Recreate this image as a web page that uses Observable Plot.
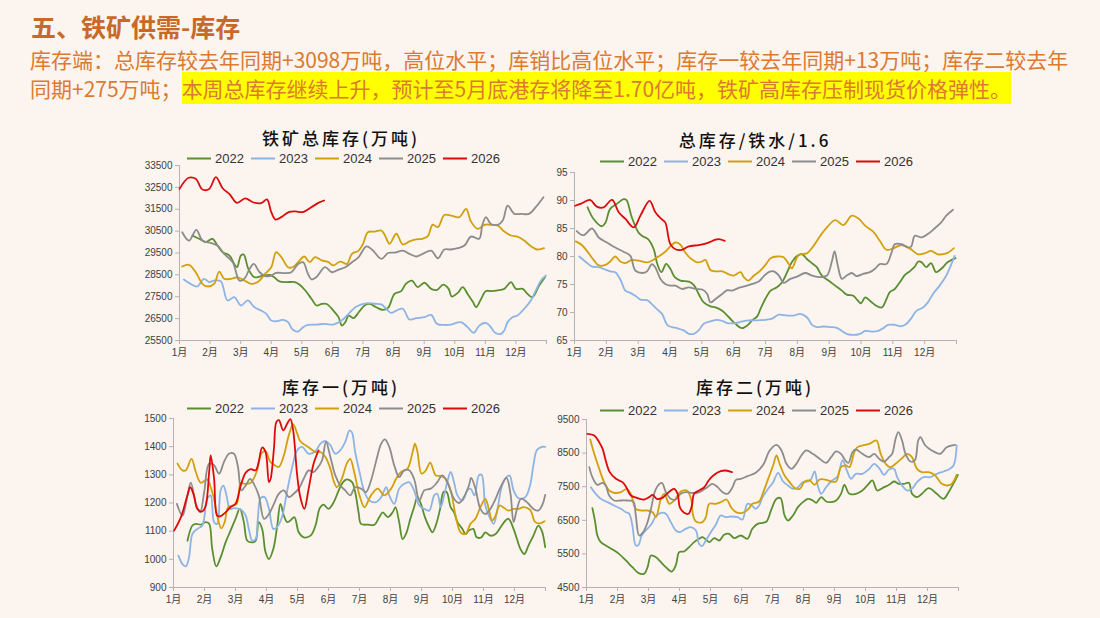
<!DOCTYPE html>
<html>
<head>
<meta charset="utf-8">
<script src="https://cdn.jsdelivr.net/npm/d3@7"></script>
<script src="https://cdn.jsdelivr.net/npm/@observablehq/plot@0.6"></script>
<style>
  body { margin: 0; background: #fbf4ef; }
  #page { position: relative; width: 1100px; height: 618px; background: #fbf4ef; overflow: hidden;
          font-family: "Noto Sans CJK SC", sans-serif; }
  .heading { position: absolute; left: 31px; top: 9px; font-size: 25px; font-weight: 700; color: #c8692a; line-height: 34px; }
  .summary { position: absolute; left: 30px; top: 45px; width: 1065px; font-size: 21px; line-height: 29px; color: #dc7a30;
             white-space: nowrap; }
  .summary span.hl { background: #ffff00; padding: 1px 0; }
  .ptitle { position: absolute; font-size: 17px; letter-spacing: 3px; color: #111; font-weight: 500;
            transform: translate(-50%, -50%); white-space: nowrap; }
  .legend { position: absolute; display: flex; align-items: center; transform: translateY(-50%);
            font-family: "Liberation Sans", Arial, sans-serif; font-size: 13px; color: #333; }
  .legend .item { display: flex; align-items: center; width: 64px; }
  .legend .sw { display: inline-block; width: 24px; height: 2px; margin-right: 4px; }
  .panel { position: absolute; }
</style>
</head>
<body>
<div id="page">
  <div class="heading">五、铁矿供需-库存</div>
  <div class="summary">库存端：总库存较去年同期+3098万吨，高位水平；库销比高位水平；库存一较去年同期+13万吨；库存二较去年<br>同期+275万吨；<span class="hl">本周总库存继续上升，预计至5月底港存将降至1.70亿吨，铁矿高库存压制现货价格弹性。</span></div>
</div>
<script>
// Series are [month position (0 = start of Jan, 12 = end of Dec), value]
const years = ["2022", "2023", "2024", "2025", "2026"];
const yearColors = ["#5a8f30", "#8db4e4", "#d2a00c", "#8c8c8c", "#dc0a0a"];
const monthLabels = ["1月","2月","3月","4月","5月","6月","7月","8月","9月","10月","11月","12月"];

// 铁矿总库存（万吨）
const total2022 = [[0.42,30300],[0.64,30150],[0.86,30000],[1.08,30150],[1.24,29840],[1.41,29540],[1.63,29390],[1.79,29000],[1.88,28850],[2.01,29390],[2.1,29430],[2.25,28780],[2.45,28390],[2.67,28440],[2.95,28500],[3.1,28390],[3.27,28200],[3.49,28170],[3.77,28170],[3.93,28050],[4.1,27810],[4.32,27400],[4.48,27100],[4.65,27170],[4.81,27170],[5.03,26870],[5.2,26570],[5.31,26180],[5.42,26330],[5.53,26640],[5.69,26520],[5.86,26790],[6.05,27100],[6.22,27170],[6.43,27020],[6.65,26900],[6.82,26990],[7.03,27630],[7.25,27760],[7.4,28090],[7.6,28240],[7.79,27940],[8.01,28140],[8.23,27860],[8.42,27810],[8.62,28050],[8.8,27860],[8.9,27510],[9.1,27680],[9.26,27940],[9.42,27630],[9.6,27250],[9.7,27020],[9.86,27400],[10.02,27760],[10.18,27760],[10.4,27790],[10.62,27860],[10.84,28170],[11.0,27860],[11.22,27860],[11.38,27630],[11.54,27480],[11.76,28010],[11.95,28390]];
const total2023 = [[0.14,28290],[0.36,28090],[0.58,27970],[0.8,28320],[0.97,28170],[1.13,28240],[1.35,28210],[1.57,27330],[1.79,27480],[2.01,27100],[2.23,27330],[2.45,27020],[2.67,26870],[2.84,26720],[3.0,26410],[3.16,26380],[3.38,26440],[3.55,26340],[3.7,26000],[3.88,25910],[4.04,26110],[4.2,26210],[4.48,26230],[4.76,26260],[5.03,26230],[5.3,26410],[5.53,26720],[5.75,27020],[5.95,27150],[6.16,27210],[6.38,27180],[6.6,27150],[6.76,26950],[6.92,26760],[7.09,26870],[7.3,26950],[7.52,26460],[7.74,26520],[8.01,26570],[8.23,26670],[8.42,26260],[8.66,26210],[8.88,26230],[9.2,26340],[9.42,26110],[9.62,25850],[9.8,26180],[10.02,26310],[10.18,26110],[10.32,25850],[10.51,25800],[10.62,25960],[10.73,26340],[10.9,26570],[11.05,26640],[11.27,26950],[11.49,27330],[11.65,27790],[11.82,28240],[11.98,28470]];
const total2024 = [[0.09,28880],[0.31,28960],[0.53,28620],[0.75,28090],[0.91,27970],[1.13,28090],[1.3,28650],[1.46,28320],[1.68,28320],[1.9,28390],[2.12,28240],[2.34,28090],[2.56,28170],[2.78,28520],[3.0,28850],[3.16,29540],[3.33,29310],[3.55,28850],[3.7,28850],[3.88,29080],[4.08,29340],[4.26,29080],[4.43,29310],[4.65,29160],[4.87,29080],[5.03,28930],[5.25,29110],[5.47,29000],[5.64,29460],[5.85,29600],[6.0,29920],[6.16,30450],[6.38,30480],[6.6,30530],[6.72,30300],[6.87,29920],[7.09,30380],[7.3,29890],[7.52,30030],[7.74,30120],[7.95,30150],[8.12,30270],[8.28,30800],[8.45,30680],[8.66,31240],[8.88,31210],[9.15,31140],[9.37,31520],[9.53,30940],[9.75,30600],[9.97,30790],[10.18,30790],[10.4,30760],[10.62,30480],[10.84,30300],[11.05,30250],[11.27,30070],[11.49,29810],[11.7,29660],[11.92,29720]];
const total2025 = [[0.09,30450],[0.31,30070],[0.55,30560],[0.75,30070],[1.02,29960],[1.24,29840],[1.46,29460],[1.74,29080],[1.96,28240],[2.12,28320],[2.29,28770],[2.43,29000],[2.62,28620],[2.81,28440],[3.0,28470],[3.16,28590],[3.44,28580],[3.66,28620],[3.88,29000],[4.04,29080],[4.2,28550],[4.32,28290],[4.48,28400],[4.76,28850],[4.98,28620],[5.2,28740],[5.42,28850],[5.64,29080],[5.85,29300],[6.11,29800],[6.3,29650],[6.6,29230],[6.82,29500],[7.05,29520],[7.3,29610],[7.52,29460],[7.74,29340],[7.95,29460],[8.23,29610],[8.45,29260],[8.66,29660],[8.88,29660],[9.1,29720],[9.32,29840],[9.53,30250],[9.8,30150],[9.9,30760],[10.02,31140],[10.18,30830],[10.4,30790],[10.57,30990],[10.73,31670],[10.95,31290],[11.16,31290],[11.43,31290],[11.65,31600],[11.9,32050]];
const total2026 = [[0.0,32430],[0.3,32940],[0.53,32890],[0.75,32400],[0.97,32430],[1.19,32970],[1.41,32460],[1.63,32200],[1.88,31790],[2.15,32000],[2.4,31820],[2.67,31780],[2.86,31950],[3.0,31370],[3.14,31030],[3.33,31140],[3.57,31370],[3.79,31400],[4.04,31370],[4.32,31600],[4.54,31790],[4.73,31900]];

// 总库存/铁水/1.6
const ratio2022 = [[0.41,88.8],[0.6,86.7],[0.86,85.4],[0.97,86.0],[1.12,88.5],[1.33,89.4],[1.54,90.25],[1.63,90.1],[1.8,87.0],[2.01,84.3],[2.14,83.6],[2.31,83.1],[2.49,81.3],[2.6,78.7],[2.73,77.2],[2.88,78.7],[3.01,77.8],[3.15,76.3],[3.33,75.7],[3.59,75.5],[3.75,74.9],[3.9,73.3],[4.06,71.8],[4.27,71.1],[4.43,70.9],[4.64,70.3],[4.85,69.15],[5.06,67.96],[5.25,67.2],[5.43,67.7],[5.58,68.6],[5.74,69.3],[5.84,70.6],[6.0,72.5],[6.16,73.9],[6.36,74.5],[6.52,75.4],[6.68,77.2],[6.83,79.0],[6.99,80.1],[7.15,80.4],[7.3,79.55],[7.46,78.8],[7.61,78.1],[7.77,76.6],[7.98,75.7],[8.19,74.8],[8.4,73.9],[8.55,73.2],[8.76,73.0],[8.86,72.4],[9.0,71.65],[9.13,72.7],[9.28,72.1],[9.44,71.35],[9.65,70.9],[9.8,72.4],[9.9,73.6],[10.06,74.2],[10.22,75.4],[10.38,76.7],[10.53,77.35],[10.69,78.2],[10.8,79.1],[10.9,79.0],[11.05,78.1],[11.2,78.8],[11.36,77.2],[11.52,77.8],[11.73,79.0],[11.97,79.7]];
const ratio2023 = [[0.15,80.0],[0.34,79.1],[0.55,78.2],[0.76,78.1],[0.97,77.65],[1.12,77.35],[1.28,77.2],[1.44,75.9],[1.6,73.9],[1.75,73.5],[1.91,73.0],[2.07,72.3],[2.28,72.2],[2.43,71.5],[2.59,70.6],[2.75,69.75],[2.91,67.8],[3.06,67.4],[3.22,67.2],[3.43,66.8],[3.59,66.2],[3.75,66.2],[3.9,66.8],[4.06,68.0],[4.27,68.4],[4.48,68.7],[4.64,68.5],[4.8,68.1],[5.06,68.1],[5.27,68.4],[5.48,68.6],[5.75,68.6],[6.0,68.7],[6.21,68.9],[6.42,69.6],[6.68,69.45],[6.89,69.45],[7.09,69.75],[7.3,69.15],[7.46,67.8],[7.61,67.4],[7.82,67.5],[8.03,67.4],[8.24,67.25],[8.4,66.7],[8.55,66.2],[8.76,66.0],[8.97,66.2],[9.13,66.7],[9.33,66.6],[9.54,66.7],[9.7,67.2],[9.85,67.8],[10.06,67.8],[10.27,67.55],[10.43,68.0],[10.58,69.0],[10.74,70.3],[10.95,70.9],[11.1,71.8],[11.26,73.3],[11.47,74.8],[11.68,76.6],[11.83,78.5],[11.94,80.1]];
const ratio2024 = [[0.04,82.7],[0.23,82.05],[0.39,81.0],[0.6,79.4],[0.76,78.4],[0.97,78.5],[1.12,79.1],[1.28,80.0],[1.44,79.1],[1.6,78.8],[1.8,79.4],[2.01,79.25],[2.28,78.95],[2.43,79.25],[2.64,80.0],[2.85,80.85],[3.01,81.8],[3.17,82.5],[3.33,82.1],[3.48,80.7],[3.64,79.7],[3.85,78.95],[4.0,79.1],[4.11,79.4],[4.27,77.6],[4.43,77.35],[4.64,77.35],[4.85,76.8],[5.0,76.6],[5.22,77.2],[5.32,76.3],[5.46,75.7],[5.64,76.6],[5.82,77.4],[6.0,78.5],[6.16,79.7],[6.36,80.0],[6.57,79.85],[6.73,78.65],[6.83,77.9],[6.99,79.85],[7.09,80.4],[7.3,80.55],[7.51,81.9],[7.72,83.7],[7.93,85.2],[8.19,86.5],[8.45,85.6],[8.71,87.3],[8.92,86.8],[9.13,85.5],[9.39,84.4],[9.59,82.8],[9.8,81.2],[10.01,81.45],[10.27,82.05],[10.53,81.45],[10.79,80.4],[11.0,80.55],[11.2,81.0],[11.41,80.4],[11.68,80.55],[11.92,81.5]];
const ratio2025 = [[0.07,84.55],[0.28,83.8],[0.55,85.0],[0.76,83.4],[1.02,82.5],[1.28,81.6],[1.54,80.85],[1.75,80.15],[1.91,77.5],[2.12,77.05],[2.28,77.35],[2.43,78.65],[2.54,78.05],[2.7,76.0],[2.85,75.1],[3.01,74.8],[3.17,74.8],[3.38,74.2],[3.59,74.5],[3.8,74.2],[4.01,74.1],[4.17,73.3],[4.27,71.8],[4.43,72.4],[4.64,73.3],[4.8,74.0],[4.95,73.9],[5.16,74.4],[5.37,74.7],[5.58,75.1],[5.8,75.6],[5.95,76.5],[6.1,77.2],[6.26,77.35],[6.42,76.6],[6.57,75.3],[6.78,76.0],[6.99,76.4],[7.25,77.05],[7.46,76.6],[7.72,76.3],[7.93,76.6],[8.08,79.0],[8.17,80.9],[8.27,78.4],[8.4,76.0],[8.55,76.6],[8.71,77.05],[8.86,76.5],[9.07,76.9],[9.28,77.2],[9.44,77.8],[9.59,78.65],[9.8,78.65],[9.96,80.7],[10.06,82.2],[10.27,82.2],[10.48,81.6],[10.58,81.8],[10.69,83.7],[10.9,83.4],[11.1,84.0],[11.31,85.0],[11.52,86.1],[11.68,87.3],[11.89,88.35]];
const ratio2026 = [[0.02,89.06],[0.23,89.5],[0.49,90.1],[0.7,88.9],[0.91,88.76],[1.18,90.1],[1.39,87.9],[1.6,86.7],[1.86,85.2],[2.07,87.3],[2.36,89.95],[2.54,87.9],[2.73,86.7],[2.85,86.1],[3.01,82.2],[3.17,81.3],[3.38,81.2],[3.59,81.8],[3.9,82.05],[4.17,82.4],[4.43,83.0],[4.53,83.1],[4.72,82.8]];

// 库存一（万吨）
const stockA2022 = [[0.45,1066],[0.61,1120],[0.72,1126],[0.88,1123],[1.04,1132],[1.15,1126],[1.25,1037],[1.38,975],[1.52,1007],[1.68,1060],[1.84,1102],[2.0,1144],[2.14,1179],[2.27,1132],[2.38,1066],[2.54,1060],[2.65,1066],[2.75,1132],[2.86,1108],[2.97,1025],[3.08,1001],[3.22,1037],[3.34,1114],[3.45,1197],[3.56,1155],[3.67,1132],[3.77,1138],[3.9,1150],[4.04,1096],[4.2,1078],[4.42,1084],[4.58,1120],[4.72,1182],[4.84,1194],[5.0,1179],[5.17,1203],[5.33,1245],[5.47,1274],[5.59,1284],[5.76,1274],[5.86,1239],[5.97,1167],[6.05,1126],[6.27,1123],[6.48,1123],[6.64,1150],[6.75,1167],[6.91,1150],[7.07,1167],[7.16,1185],[7.28,1132],[7.39,1072],[7.5,1090],[7.64,1144],[7.76,1185],[7.87,1221],[7.98,1197],[8.11,1150],[8.25,1114],[8.35,1096],[8.46,1120],[8.6,1179],[8.71,1239],[8.81,1239],[8.94,1185],[9.05,1167],[9.16,1132],[9.32,1108],[9.42,1090],[9.53,1102],[9.67,1108],[9.78,1078],[9.93,1078],[10.06,1096],[10.22,1084],[10.39,1090],[10.55,1114],[10.71,1138],[10.81,1144],[10.97,1108],[11.08,1072],[11.19,1037],[11.32,1019],[11.45,1049],[11.61,1084],[11.77,1120],[11.88,1102],[11.99,1043]];
const stockA2023 = [[0.16,1013],[0.29,983],[0.4,975],[0.5,1007],[0.61,1090],[0.77,1108],[0.93,1120],[1.09,1215],[1.2,1227],[1.31,1132],[1.41,1126],[1.52,1245],[1.61,1262],[1.71,1227],[1.82,1179],[1.95,1182],[2.11,1179],[2.22,1173],[2.33,1155],[2.43,1108],[2.54,1066],[2.65,1072],[2.72,1144],[2.81,1217],[2.94,1221],[3.08,1179],[3.22,1108],[3.34,1114],[3.5,1150],[3.67,1245],[3.83,1328],[3.99,1387],[4.15,1399],[4.36,1375],[4.58,1384],[4.74,1411],[4.9,1420],[5.06,1405],[5.22,1375],[5.38,1387],[5.54,1417],[5.68,1458],[5.76,1450],[5.86,1381],[6.0,1310],[6.16,1239],[6.32,1209],[6.53,1203],[6.7,1221],[6.86,1256],[6.96,1227],[7.12,1197],[7.28,1251],[7.44,1268],[7.6,1274],[7.76,1245],[7.93,1191],[8.09,1179],[8.25,1173],[8.41,1227],[8.51,1233],[8.62,1185],[8.73,1227],[8.83,1274],[8.94,1310],[9.05,1274],[9.16,1227],[9.32,1209],[9.48,1245],[9.58,1251],[9.71,1227],[9.85,1298],[9.94,1300],[10.06,1191],[10.22,1144],[10.33,1126],[10.44,1173],[10.6,1262],[10.74,1292],[10.84,1298],[10.97,1245],[11.13,1217],[11.35,1221],[11.5,1262],[11.61,1334],[11.72,1387],[11.88,1399],[11.99,1399]];
const stockA2024 = [[0.13,1340],[0.29,1316],[0.4,1316],[0.58,1357],[0.72,1310],[0.88,1272],[1.09,1284],[1.2,1256],[1.33,1203],[1.41,1155],[1.54,1110],[1.65,1132],[1.76,1185],[1.9,1191],[2.04,1197],[2.17,1272],[2.29,1268],[2.49,1272],[2.68,1310],[2.83,1375],[2.97,1384],[3.11,1348],[3.24,1336],[3.4,1328],[3.56,1369],[3.72,1441],[3.86,1479],[3.99,1447],[4.09,1419],[4.26,1405],[4.42,1393],[4.58,1381],[4.74,1381],[4.9,1363],[5.06,1322],[5.17,1277],[5.27,1256],[5.43,1286],[5.59,1340],[5.7,1357],[5.84,1304],[6.0,1227],[6.16,1185],[6.37,1227],[6.59,1251],[6.8,1227],[7.02,1251],[7.18,1286],[7.34,1310],[7.55,1322],[7.71,1379],[7.79,1411],[7.87,1381],[8.0,1304],[8.14,1316],[8.28,1343],[8.46,1298],[8.62,1296],[8.78,1286],[8.94,1245],[9.1,1155],[9.26,1096],[9.42,1090],[9.58,1126],[9.74,1144],[9.9,1185],[10.06,1215],[10.17,1179],[10.28,1138],[10.39,1155],[10.52,1191],[10.67,1182],[10.81,1173],[10.97,1179],[11.13,1179],[11.29,1185],[11.5,1176],[11.67,1132],[11.83,1128],[11.97,1135]];
const stockA2025 = [[0.11,1197],[0.29,1155],[0.45,1227],[0.56,1272],[0.72,1197],[0.86,1167],[0.99,1239],[1.15,1340],[1.31,1334],[1.47,1304],[1.63,1346],[1.79,1375],[1.95,1375],[2.08,1328],[2.19,1245],[2.33,1262],[2.47,1286],[2.59,1268],[2.75,1227],[2.92,1144],[3.08,1161],[3.24,1197],[3.4,1233],[3.56,1245],[3.72,1221],[3.88,1233],[4.04,1251],[4.2,1286],[4.36,1316],[4.52,1310],[4.63,1322],[4.79,1351],[4.92,1417],[5.06,1363],[5.22,1298],[5.38,1262],[5.54,1245],[5.7,1227],[5.86,1256],[6.05,1251],[6.21,1239],[6.37,1280],[6.53,1346],[6.7,1411],[6.82,1426],[6.96,1399],[7.12,1334],[7.28,1292],[7.44,1316],[7.6,1316],[7.76,1286],[7.93,1209],[8.09,1245],[8.3,1251],[8.51,1274],[8.67,1298],[8.83,1274],[9.05,1215],[9.21,1200],[9.37,1221],[9.53,1262],[9.6,1289],[9.74,1251],[9.9,1179],[10.06,1161],[10.22,1179],[10.39,1215],[10.55,1256],[10.74,1289],[10.87,1233],[10.97,1132],[11.08,1179],[11.21,1215],[11.4,1203],[11.61,1179],[11.77,1173],[11.91,1197],[11.99,1229]];
const stockA2026 = [[0.02,1102],[0.24,1150],[0.45,1227],[0.54,1256],[0.66,1227],[0.77,1179],[0.93,1170],[1.04,1191],[1.15,1310],[1.2,1369],[1.31,1286],[1.41,1155],[1.52,1153],[1.68,1167],[1.84,1185],[2.0,1197],[2.17,1262],[2.33,1308],[2.49,1320],[2.65,1316],[2.75,1346],[2.86,1397],[2.97,1381],[3.08,1274],[3.13,1284],[3.24,1393],[3.32,1488],[3.4,1494],[3.54,1458],[3.67,1482],[3.77,1498],[3.86,1458],[3.99,1298],[4.09,1221],[4.22,1179],[4.36,1251],[4.52,1340],[4.68,1387]];

// 库存二（万吨）
const stockB2022 = [[0.19,6861],[0.28,6445],[0.35,6048],[0.46,5850],[0.62,5750],[0.84,5631],[1.05,5502],[1.27,5304],[1.48,5105],[1.68,4927],[1.86,4907],[1.97,5105],[2.08,5453],[2.24,5403],[2.4,5254],[2.56,5105],[2.75,4976],[2.88,5155],[2.99,5552],[3.15,5572],[3.31,5701],[3.47,5850],[3.63,5949],[3.74,5998],[3.85,5929],[3.96,5850],[4.12,5969],[4.28,5899],[4.44,6068],[4.6,6098],[4.76,5969],[4.98,6048],[5.19,5949],[5.35,6246],[5.52,6395],[5.68,6425],[5.81,6464],[5.97,6841],[6.13,7139],[6.26,7159],[6.39,6643],[6.5,6494],[6.66,6643],[6.82,6891],[6.98,7040],[7.14,7139],[7.3,7089],[7.41,7020],[7.57,7189],[7.73,7060],[7.89,7040],[8.05,7089],[8.21,7288],[8.32,7556],[8.48,7288],[8.69,7288],[8.9,7387],[9.06,7536],[9.22,7685],[9.38,7387],[9.6,7486],[9.76,7556],[9.92,7655],[10.08,7585],[10.24,7585],[10.4,7615],[10.5,7288],[10.66,7189],[10.82,7288],[11.04,7456],[11.3,7288],[11.52,7139],[11.68,7337],[11.89,7685],[11.98,7853]];
const stockB2023 = [[0.14,7486],[0.3,7288],[0.46,7139],[0.68,7040],[0.89,6941],[1.11,6841],[1.27,6742],[1.38,6693],[1.48,6345],[1.59,5750],[1.68,5770],[1.78,6048],[1.91,6197],[2.08,6365],[2.24,6623],[2.4,6722],[2.56,6693],[2.72,6445],[2.88,6197],[3.01,6147],[3.2,6246],[3.37,6296],[3.53,6197],[3.63,5800],[3.72,5730],[3.85,5899],[4.01,6147],[4.17,6365],[4.33,6643],[4.49,6593],[4.66,6613],[4.87,6593],[5.03,6524],[5.19,6990],[5.33,6941],[5.46,6841],[5.57,6941],[5.68,7189],[5.86,7437],[6.02,7635],[6.18,7913],[6.34,7655],[6.5,7536],[6.66,7437],[6.82,7486],[6.98,7635],[7.14,7655],[7.25,7734],[7.36,7953],[7.46,7536],[7.57,7288],[7.73,7486],[7.89,7655],[8.1,7813],[8.26,8280],[8.42,7933],[8.53,7734],[8.69,7883],[8.9,7883],[9.12,8032],[9.28,8181],[9.44,8052],[9.6,7853],[9.76,8012],[9.92,8032],[10.02,7784],[10.18,7536],[10.34,7387],[10.5,7437],[10.66,7635],[10.88,7784],[11.09,7784],[11.3,7883],[11.52,7953],[11.68,8012],[11.84,8131],[11.94,8726]];
const stockB2024 = [[0.12,8905],[0.25,8478],[0.41,8032],[0.57,7635],[0.73,7387],[0.89,7318],[1.11,7337],[1.3,7437],[1.43,7288],[1.59,6841],[1.78,6792],[1.97,6792],[2.13,6742],[2.24,6593],[2.4,7139],[2.51,7288],[2.67,6990],[2.83,7089],[3.04,7357],[3.24,7387],[3.37,7139],[3.44,6643],[3.53,6464],[3.74,6445],[3.85,6593],[3.96,6990],[4.17,6990],[4.33,7040],[4.52,7119],[4.66,6891],[4.82,6742],[5.03,6722],[5.23,6841],[5.35,6990],[5.57,7060],[5.7,7330],[5.86,7734],[6.02,8131],[6.13,8429],[6.23,8181],[6.39,7833],[6.55,7635],[6.72,7456],[6.88,7437],[7.04,7655],[7.2,7685],[7.36,7556],[7.52,7714],[7.73,7704],[7.89,7655],[8.05,7655],[8.21,8082],[8.37,8131],[8.48,8082],[8.64,8528],[8.74,8677],[8.9,8726],[9.12,8776],[9.35,8875],[9.49,8478],[9.65,8181],[9.81,8082],[9.97,8181],[10.18,8349],[10.34,8478],[10.5,8379],[10.66,8032],[10.82,7933],[11.04,7933],[11.25,7833],[11.46,7585],[11.62,7536],[11.78,7585],[11.94,7853]];
const stockB2025 = [[0.09,8082],[0.19,7784],[0.35,7556],[0.52,7615],[0.62,7536],[0.73,7238],[0.89,7089],[1.11,7089],[1.32,7089],[1.51,7060],[1.59,6643],[1.7,6048],[1.83,6147],[1.97,6445],[2.08,6841],[2.24,7437],[2.43,7615],[2.56,7337],[2.72,7139],[2.88,7119],[3.04,7288],[3.2,7337],[3.37,7318],[3.58,7318],[3.74,7387],[3.9,7486],[4.06,7585],[4.23,7486],[4.39,7337],[4.55,7288],[4.71,7486],[4.82,7704],[4.98,7734],[5.19,7813],[5.46,7913],[5.7,8150],[5.91,8578],[6.13,8746],[6.29,8578],[6.45,8181],[6.61,8032],[6.77,8181],[6.93,8429],[7.09,8578],[7.3,8478],[7.52,8330],[7.73,8210],[7.89,8379],[8.05,8548],[8.21,8478],[8.35,8280],[8.45,8210],[8.58,8528],[8.69,8607],[8.9,8478],[9.12,8379],[9.28,8478],[9.44,8330],[9.6,8250],[9.76,8379],[9.86,8478],[9.97,8925],[10.06,9123],[10.18,8875],[10.29,8478],[10.45,8250],[10.59,8280],[10.7,8875],[10.77,8974],[10.93,8726],[11.14,8578],[11.41,8478],[11.62,8677],[11.89,8746]];
const stockB2026 = [[0.03,9073],[0.25,9024],[0.41,8825],[0.52,8627],[0.62,8280],[0.75,7933],[0.95,7734],[1.16,7635],[1.27,7506],[1.43,7238],[1.65,7159],[1.86,7119],[2.02,7189],[2.13,7258],[2.27,7139],[2.43,7159],[2.56,7258],[2.72,7387],[2.83,7437],[2.94,7288],[3.01,6891],[3.15,6722],[3.29,6693],[3.4,6940],[3.47,7288],[3.63,7387],[3.8,7486],[3.94,7685],[4.12,7853],[4.33,7962],[4.49,7982],[4.69,7933]];

const page = document.getElementById("page");

function addLegend(left, top) {
  const lg = document.createElement("div");
  lg.className = "legend";
  lg.style.left = left + "px";
  lg.style.top = top + "px";
  years.forEach((y, i) => {
    const item = document.createElement("div");
    item.className = "item";
    const sw = document.createElement("span");
    sw.className = "sw";
    sw.style.background = yearColors[i];
    item.appendChild(sw);
    item.appendChild(document.createTextNode(y));
    lg.appendChild(item);
  });
  page.appendChild(lg);
}

function addTitle(text, cx, cy) {
  const t = document.createElement("div");
  t.className = "ptitle";
  t.textContent = text;
  t.style.left = cx + "px";
  t.style.top = cy + "px";
  page.appendChild(t);
}

function drawPanel(p) {
  const axisColor = "#b3b3b3";
  const marks = [
    Plot.axisY({ticks: p.yTicks, tickFormat: d3.format("d"), tickSize: 4, tickPadding: 3, stroke: axisColor, label: null}),
    Plot.axisX({ticks: d3.range(0, 13), tickFormat: (m) => monthLabels[m] ?? "", tickSize: 4, tickPadding: 4, stroke: axisColor, label: null}),
    Plot.ruleX([0], {stroke: axisColor}),
    Plot.ruleY([p.yDomain[0]], {stroke: axisColor}),
    ...p.series.map((s, i) => Plot.line(s, {x: (d) => d[0], y: (d) => d[1], stroke: yearColors[i], strokeWidth: 1.8, curve: "catmull-rom"}))
  ];
  const svg = Plot.plot({
    width: p.box.width, height: p.box.height,
    marginLeft: p.margin[3], marginRight: p.margin[1], marginTop: p.margin[0], marginBottom: p.margin[2],
    x: {domain: [0, 12]},
    y: {domain: p.yDomain},
    style: {background: "transparent", color: "#404040", fontSize: "10px",
            fontFamily: '"Liberation Sans", "Noto Sans CJK SC", sans-serif', overflow: "visible"},
    marks
  });
  svg.classList.add("panel");
  svg.style.left = p.box.left + "px";
  svg.style.top = p.box.top + "px";
  page.appendChild(svg);
}

drawPanel({
  box: {left: 120, top: 145, width: 440, height: 220}, margin: [20, 14, 25, 59],
  yDomain: [25500, 33500], yTicks: d3.range(25500, 33501, 1000),
  series: [total2022, total2023, total2024, total2025, total2026]
});
drawPanel({
  box: {left: 540, top: 150, width: 430, height: 215}, margin: [22, 14, 25, 34],
  yDomain: [65, 95], yTicks: d3.range(65, 96, 5),
  series: [ratio2022, ratio2023, ratio2024, ratio2025, ratio2026]
});
drawPanel({
  box: {left: 120, top: 398, width: 440, height: 214}, margin: [20, 15, 25, 53],
  yDomain: [900, 1500], yTicks: d3.range(900, 1501, 100),
  series: [stockA2022, stockA2023, stockA2024, stockA2025, stockA2026]
});
drawPanel({
  box: {left: 540, top: 398, width: 430, height: 214}, margin: [21, 12, 25, 46],
  yDomain: [4500, 9500], yTicks: d3.range(4500, 9501, 1000),
  series: [stockB2022, stockB2023, stockB2024, stockB2025, stockB2026]
});

addTitle("铁矿总库存(万吨)", 341, 137);
addTitle("总库存/铁水/1.6", 755, 139);
addTitle("库存一(万吨)", 341, 386);
addTitle("库存二(万吨)", 755, 386);
addLegend(187, 158);
addLegend(600, 161);
addLegend(187, 408);
addLegend(600, 410);
</script>
</body>
</html>
